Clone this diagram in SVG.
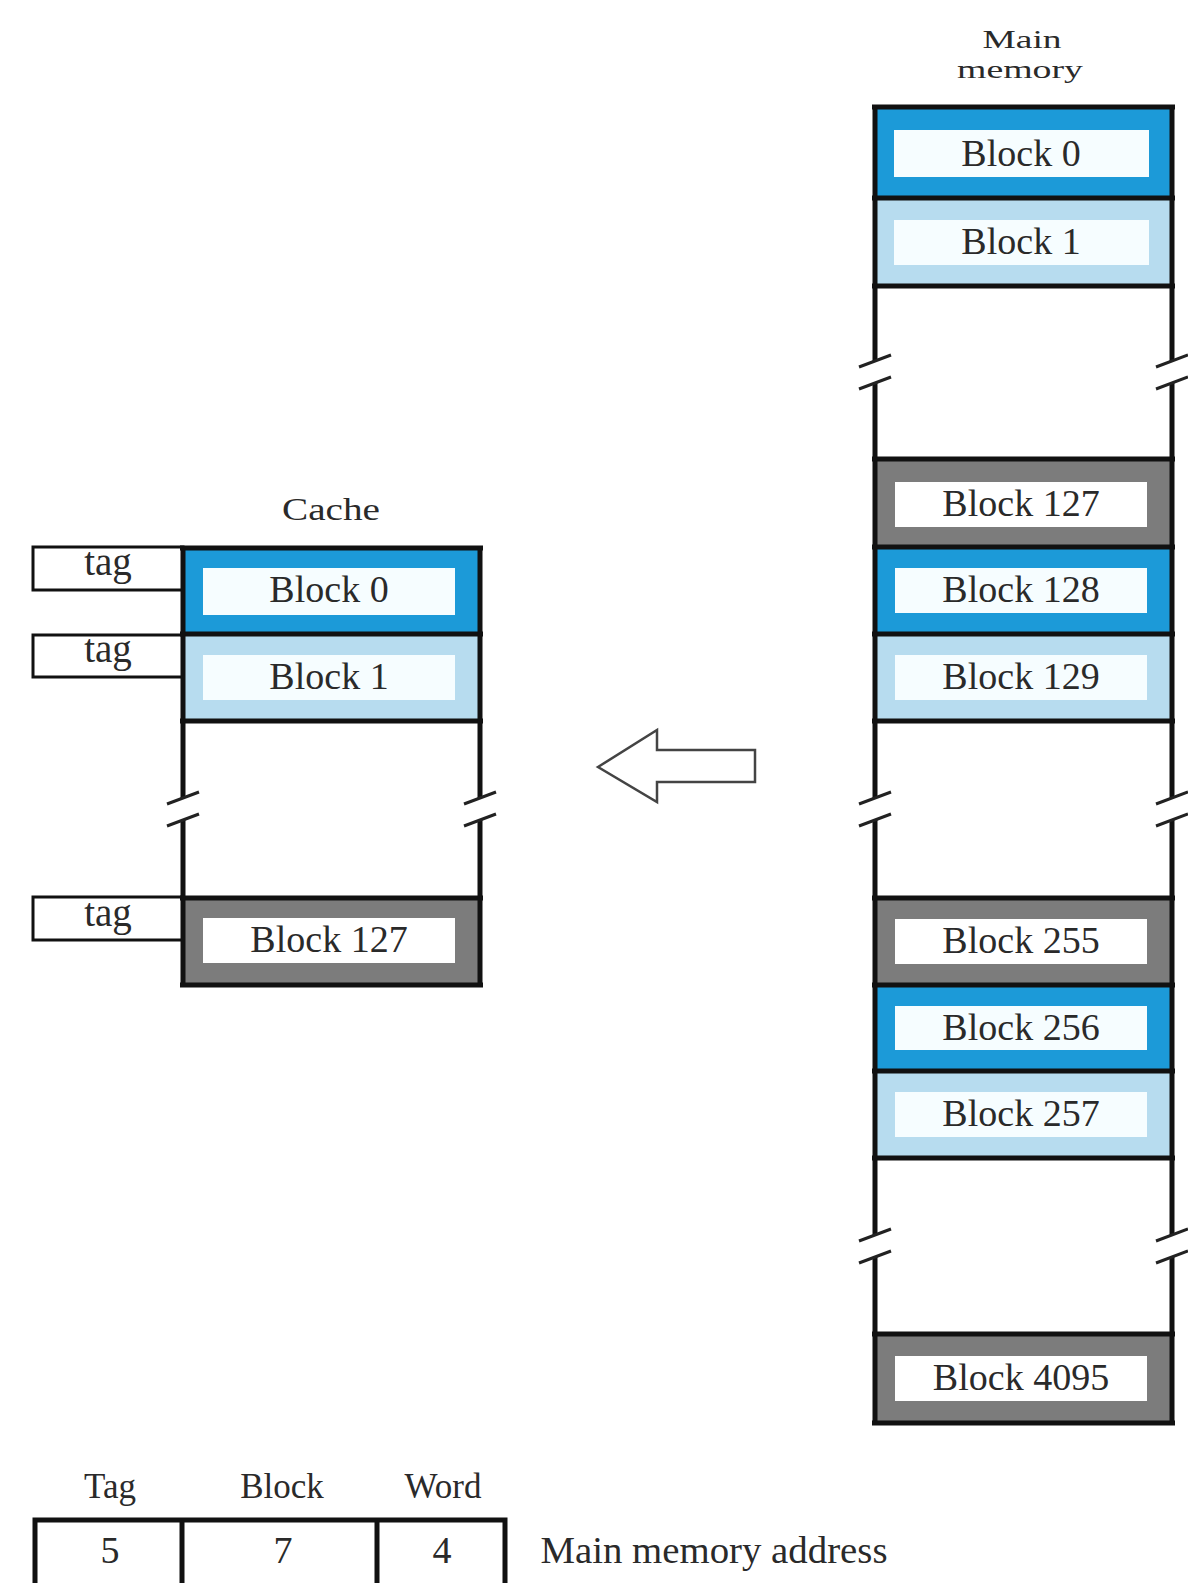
<svg xmlns="http://www.w3.org/2000/svg" width="1188" height="1583" viewBox="0 0 1188 1583">
<style>
.t{font-family:"Liberation Serif","Times New Roman",serif;fill:#2a2a2a;text-anchor:middle}
.blk{font-size:38px}
.hd{font-size:35px}
.tagt{font-size:39px}
.dk{fill:#1c9ad8}
.lt{fill:#b7dcef}
.gr{fill:#7c7c7c}
.in{fill:#f6fdff}
.ln{stroke:#111;stroke-width:5;fill:none}
.sl{stroke:#222;stroke-width:3;fill:none}
.tb{fill:#fff;stroke:#111;stroke-width:3}
</style>
<rect width="1188" height="1583" fill="#fff"/>

<!-- Main memory -->
<g id="main-memory">
  <text class="t" x="1022" y="48" font-size="25" textLength="79" lengthAdjust="spacingAndGlyphs">Main</text>
  <text class="t" x="1020" y="78" font-size="25" textLength="126" lengthAdjust="spacingAndGlyphs">memory</text>
  <g id="mm-block0"><rect class="dk" x="875" y="107" width="297" height="91"/><rect class="in" x="894" y="130" width="255" height="47"/><text class="t blk" x="1021" y="166">Block 0</text></g>
  <g id="mm-block1"><rect class="lt" x="875" y="198" width="297" height="88"/><rect class="in" x="894" y="220" width="255" height="45"/><text class="t blk" x="1021" y="254">Block 1</text></g>
  <g id="mm-block127"><rect class="gr" x="875" y="459" width="297" height="88"/><rect fill="#fff" x="895" y="482" width="252" height="45"/><text class="t blk" x="1021" y="516">Block 127</text></g>
  <g id="mm-block128"><rect class="dk" x="875" y="547" width="297" height="87"/><rect class="in" x="895" y="568" width="252" height="45"/><text class="t blk" x="1021" y="602">Block 128</text></g>
  <g id="mm-block129"><rect class="lt" x="875" y="634" width="297" height="87"/><rect class="in" x="895" y="655" width="252" height="45"/><text class="t blk" x="1021" y="689">Block 129</text></g>
  <g id="mm-block255"><rect class="gr" x="875" y="898" width="297" height="87"/><rect fill="#fff" x="895" y="919" width="252" height="45"/><text class="t blk" x="1021" y="953">Block 255</text></g>
  <g id="mm-block256"><rect class="dk" x="875" y="985" width="297" height="86"/><rect class="in" x="895" y="1006" width="252" height="44"/><text class="t blk" x="1021" y="1040">Block 256</text></g>
  <g id="mm-block257"><rect class="lt" x="875" y="1071" width="297" height="87"/><rect class="in" x="895" y="1092" width="252" height="45"/><text class="t blk" x="1021" y="1126">Block 257</text></g>
  <g id="mm-block4095"><rect class="gr" x="875" y="1334" width="297" height="89"/><rect fill="#fff" x="895" y="1356" width="252" height="45"/><text class="t blk" x="1021" y="1390">Block 4095</text></g>
  <path class="ln" d="M872 107H1175M872 198H1175M872 286H1175M872 459H1175M872 547H1175M872 634H1175M872 721H1175M872 898H1175M872 985H1175M872 1071H1175M872 1158H1175M872 1334H1175M872 1423H1175"/>
  <path class="ln" d="M875 107V361M875 383V798M875 820V1235M875 1257V1423M1172 107V361M1172 383V798M1172 820V1235M1172 1257V1423"/>
  <path class="sl" d="M859 367L891 355M859 389L891 377M1156 367L1188 355M1156 389L1188 377M859 804L891 792M859 826L891 814M1156 804L1188 792M1156 826L1188 814M859 1241L891 1229M859 1263L891 1251M1156 1241L1188 1229M1156 1263L1188 1251"/>
</g>

<!-- Cache -->
<g id="cache">
  <text class="t" x="331" y="520" font-size="31" textLength="98" lengthAdjust="spacingAndGlyphs">Cache</text>
  <g id="tag0"><rect class="tb" x="33" y="547" width="150" height="43"/><text class="t tagt" x="108" y="575">tag</text></g>
  <g id="tag1"><rect class="tb" x="33" y="635" width="150" height="42"/><text class="t tagt" x="108" y="662">tag</text></g>
  <g id="tag127"><rect class="tb" x="33" y="897" width="150" height="43"/><text class="t tagt" x="108" y="926">tag</text></g>
  <g id="c-block0"><rect class="dk" x="183" y="548" width="297" height="86"/><rect class="in" x="203" y="568" width="252" height="47"/><text class="t blk" x="329" y="602">Block 0</text></g>
  <g id="c-block1"><rect class="lt" x="183" y="634" width="297" height="87"/><rect class="in" x="203" y="655" width="252" height="45"/><text class="t blk" x="329" y="689">Block 1</text></g>
  <g id="c-block127"><rect class="gr" x="183" y="898" width="297" height="87"/><rect fill="#fff" x="203" y="918" width="252" height="45"/><text class="t blk" x="329" y="952">Block 127</text></g>
  <path class="ln" d="M180 548H483M180 634H483M180 721H483M180 898H483M180 985H483"/>
  <path class="ln" d="M183 548V798M183 820V985M480 548V798M480 820V985"/>
  <path class="sl" d="M167 804L199 792M167 826L199 814M464 804L496 792M464 826L496 814"/>
</g>

<!-- Transfer arrow -->
<g id="connectors">
  <polygon points="598,767 657,730 657,750 755,750 755,782 657,782 657,802" fill="#fff" stroke="#444" stroke-width="2.5" stroke-linejoin="miter"/>
</g>

<!-- Address format -->
<g id="address">
  <text class="t hd" x="110" y="1498">Tag</text>
  <text class="t hd" x="282" y="1498">Block</text>
  <text class="t hd" x="443" y="1498">Word</text>
  <path class="ln" d="M35 1595V1520H505V1595M182 1520V1595M377 1520V1595"/>
  <text class="t blk" x="110" y="1563">5</text>
  <text class="t blk" x="283" y="1563">7</text>
  <text class="t blk" x="442" y="1563">4</text>
  <text class="t blk" x="714" y="1563" text-anchor="middle" textLength="347" lengthAdjust="spacingAndGlyphs">Main memory address</text>
</g>
</svg>
